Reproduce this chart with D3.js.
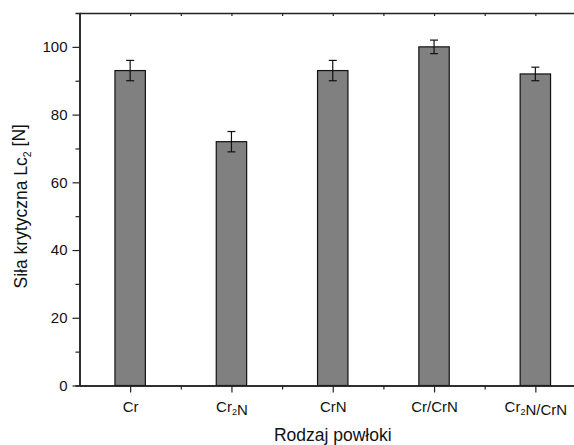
<!DOCTYPE html>
<html>
<head>
<meta charset="utf-8">
<style>
    body { margin: 0; background: white; }
    svg { display: block; font-family: Arial, "Liberation Sans", Helvetica, sans-serif; }
    .axis .domain { stroke: #222; stroke-width: 1.5px; }
    .axis line { stroke: #222; stroke-width: 1.2px; }
    .axis text { font-size: 15px; fill: #111; }
</style>
</head>
<body>
<svg id="chart" width="574" height="445"></svg>
<script src="https://d3js.org/d3.v7.min.js"></script>
<script>
// data
const categories = ["Cr", "Cr2N", "CrN", "Cr/CrN", "Cr2N/CrN"];
const values = [93, 72, 93, 100, 92];
const errors = [3, 3, 3, 2, 2];
const yTicks = [0, 20, 40, 60, 80, 100];
const yMinorTicks = [10, 30, 50, 70, 90];

let svg = d3.select("#chart")

let mLeft = 79.5, mTop = 13, mBottom = 385.5, mRight = 586

let x = d3.scaleLinear()
    .domain([0.5, 5.5])
    .range([mLeft, mRight])

let y = d3.scaleLinear()
    .domain([0, 110])
    .range([mBottom, mTop])

let catPos = categories.map((c, i) => i + 1)
let minorX = [1.5, 2.5, 3.5, 4.5]

// writes a label with digits as subscripts (Cr2N -> Cr₂N)
function subLabel(sel, label) {
    sel.text(null)
    label.split(/(\d)/).filter(s => s.length).forEach(part => {
        if (/\d/.test(part)) {
            sel.append("tspan").attr("dy", "0.35em").style("font-size", "0.6em").text(part)
            sel.append("tspan").attr("dy", "-0.35em").text("")
        } else {
            sel.append("tspan").text(part)
        }
    })
}

// bars
svg.append("g")
    .selectAll("rect")
    .data(values)
    .join("rect")
    .attr("x", (d, i) => x(catPos[i] - 0.15))
    .attr("width", x(1.3) - x(1))
    .attr("y", d => y(d))
    .attr("height", d => y(0) - y(d))
    .style("fill", "#808080")
    .style("stroke", "#111")
    .style("stroke-width", 1.2)

// error bars
let err = svg.append("g")
    .selectAll("g")
    .data(values)
    .join("g")
    .style("stroke", "#111")
    .style("stroke-width", 1.2)
err.append("line")
    .attr("x1", (d, i) => x(catPos[i])).attr("x2", (d, i) => x(catPos[i]))
    .attr("y1", (d, i) => y(d - errors[i])).attr("y2", (d, i) => y(d + errors[i]))
err.append("line")
    .attr("x1", (d, i) => x(catPos[i]) - 4).attr("x2", (d, i) => x(catPos[i]) + 4)
    .attr("y1", (d, i) => y(d + errors[i])).attr("y2", (d, i) => y(d + errors[i]))
err.append("line")
    .attr("x1", (d, i) => x(catPos[i]) - 4).attr("x2", (d, i) => x(catPos[i]) + 4)
    .attr("y1", (d, i) => y(d - errors[i])).attr("y2", (d, i) => y(d - errors[i]))

// left axis
svg.append("g")
    .attr("class", "axis")
    .attr("transform", `translate(${mLeft},0)`)
    .call(d3.axisLeft(y).tickValues(yMinorTicks).tickSize(4).tickFormat(""))
svg.append("g")
    .attr("class", "axis")
    .attr("transform", `translate(${mLeft},0)`)
    .call(d3.axisLeft(y).tickValues(yTicks).tickSize(7).tickPadding(5).tickSizeOuter(0))

// bottom axis
svg.append("g")
    .attr("class", "axis")
    .attr("transform", `translate(0,${mBottom})`)
    .call(d3.axisBottom(x).tickValues(minorX).tickSize(4).tickFormat("").tickSizeOuter(0))
svg.append("g")
    .attr("class", "axis")
    .attr("transform", `translate(0,${mBottom})`)
    .call(d3.axisBottom(x).tickValues(catPos).tickSize(7).tickPadding(9).tickSizeOuter(0)
        .tickFormat((d, i) => categories[i]))
    .selectAll(".tick text")
    .each(function(d, i) { subLabel(d3.select(this), categories[i]) })

// top frame with inner ticks
svg.append("g")
    .attr("class", "axis")
    .attr("transform", `translate(0,${mTop})`)
    .call(d3.axisTop(x).tickValues(catPos.concat(minorX)).tickSize(-3).tickFormat("").tickSizeOuter(0))

// axis titles
svg.append("text")
    .attr("x", (mLeft + mRight) / 2)
    .attr("y", 441)
    .attr("text-anchor", "middle")
    .style("font-size", "17.5px")
    .style("fill", "#111")
    .text("Rodzaj powłoki")

let yt = svg.append("text")
    .attr("transform", `translate(27,${(mBottom + mTop) / 2 + 7}) rotate(-90)`)
    .attr("text-anchor", "middle")
    .style("font-size", "17.5px")
    .style("fill", "#111")
yt.append("tspan").text("Siła krytyczna Lc")
yt.append("tspan").attr("dy", "0.35em").style("font-size", "0.6em").text("2")
yt.append("tspan").attr("dy", "-0.35em").text(" [N]")
</script>
</body>
</html>
